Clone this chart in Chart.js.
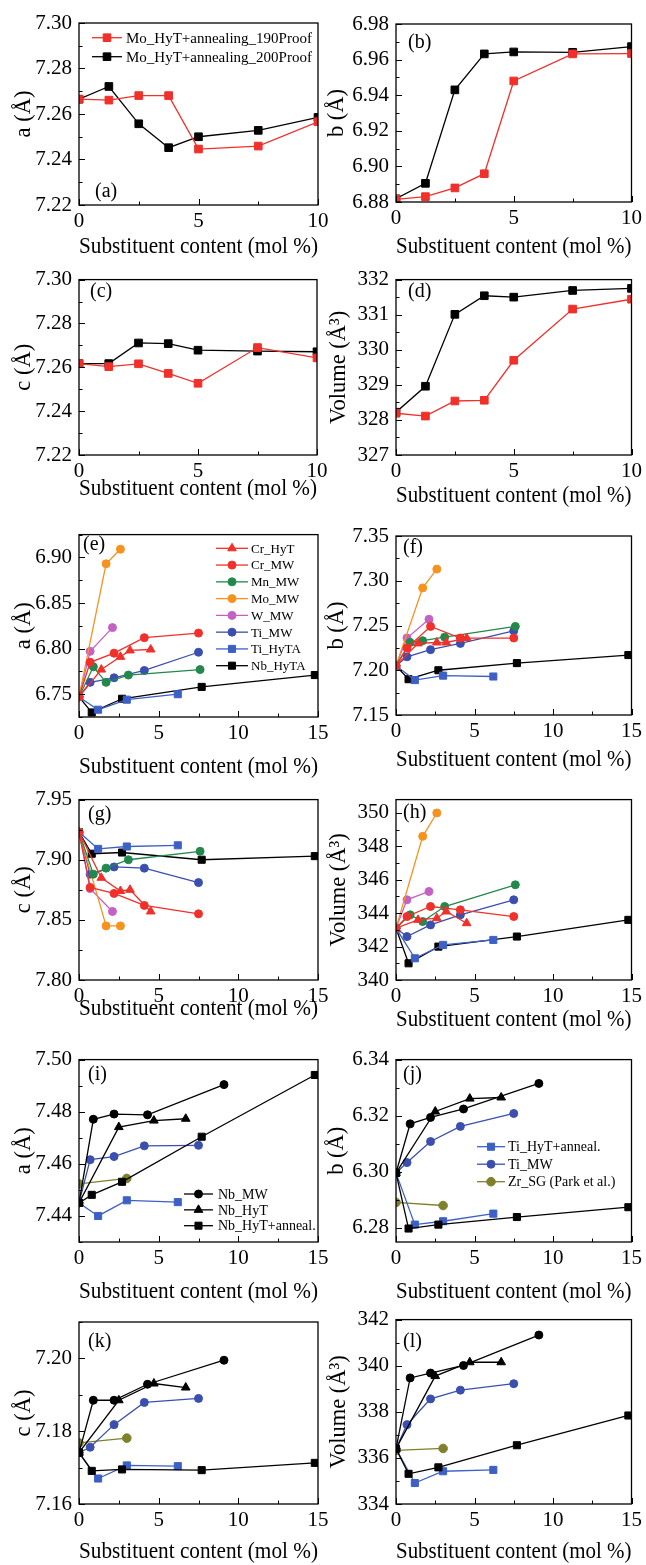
<!DOCTYPE html>
<html>
<head>
<meta charset="utf-8">
<script src="https://cdn.jsdelivr.net/npm/chart.js@4.4.0/dist/chart.umd.min.js"></script>
<style>
  html, body { margin: 0; padding: 0; background: #fff; overflow: hidden; }
  #fig { position: relative; width: 646px; height: 1565px; }
  #fig canvas { position: absolute; }
</style>
</head>
<body>
<div id="fig"></div>
<script>
// ---------- data: Mo substitution, 190 vs 200 proof (a-d) ----------
const xMo = [0, 1.25, 2.5, 3.75, 5, 7.5, 10];
const a190 = [7.2665, 7.2661, 7.2681, 7.2681, 7.2446, 7.2459, 7.2566];
const a200 = [7.2665, 7.2721, 7.2557, 7.2452, 7.2500, 7.2528, 7.2585];
const b190 = [6.8815, 6.8830, 6.8879, 6.8959, 6.9480, 6.9632, 6.9634];
const b200 = [6.8818, 6.8905, 6.9430, 6.9632, 6.9643, 6.9641, 6.9673];
const c190 = [7.2617, 7.2603, 7.2616, 7.2572, 7.2527, 7.2690, 7.2643];
const c200 = [7.2617, 7.2617, 7.2711, 7.2708, 7.2678, 7.2674, 7.2671];
const v190 = [328.19, 328.11, 328.54, 328.56, 329.70, 331.16, 331.44];
const v200 = [328.22, 328.96, 331.01, 331.54, 331.50, 331.69, 331.75];

// ---------- data: other substituents (e-h) ----------
const xCrHyT  = [0, 1.4, 2.6, 3.2, 4.5];
const xCrMW   = [0, 0.7, 2.2, 4.1, 7.5];
const xMnMW   = [0, 0.9, 1.7, 3.1, 7.6];
const xMoMW   = [0, 1.7, 2.6];
const xWMW    = [0, 0.7, 2.1];
const xTiMW   = [0, 0.7, 2.2, 4.1, 7.5];
const xTiHyTA = [0, 1.2, 3.0, 6.2];
const xNbHyTA = [0, 0.8, 2.7, 7.7, 14.8];

const aCrHyT  = [6.747, 6.777, 6.791, 6.798, 6.799];
const aCrMW   = [6.747, 6.785, 6.795, 6.812, 6.817];
const aMnMW   = [6.747, 6.780, 6.763, 6.771, 6.777];
const aMoMW   = [6.747, 6.893, 6.909];
const aWMW    = [6.747, 6.797, 6.823];
const aTiMW   = [6.747, 6.763, 6.768, 6.776, 6.796];
const aTiHyTA = [6.747, 6.733, 6.744, 6.750];
const aNbHyTA = [6.747, 6.730, 6.745, 6.758, 6.771];

const bCrHyT  = [7.205, 7.230, 7.231, 7.231, 7.236];
const bCrMW   = [7.205, 7.225, 7.249, 7.236, 7.236];
const bMnMW   = [7.205, 7.231, 7.233, 7.237, 7.249];
const bMoMW   = [7.205, 7.292, 7.313];
const bWMW    = [7.205, 7.236, 7.257];
const bTiMW   = [7.205, 7.215, 7.223, 7.230, 7.244];
const bTiHyTA = [7.205, 7.189, 7.194, 7.193];
const bNbHyTA = [7.205, 7.190, 7.200, 7.208, 7.217];

const cCrHyT  = [7.923, 7.885, 7.874, 7.875, 7.857];
const cCrMW   = [7.923, 7.877, 7.872, 7.862, 7.855];
const cMnMW   = [7.923, 7.888, 7.893, 7.900, 7.907];
const cMoMW   = [7.923, 7.845, 7.845];
const cWMW    = [7.923, 7.876, 7.857];
const cTiMW   = [7.923, 7.888, 7.894, 7.893, 7.881];
const cTiHyTA = [7.923, 7.909, 7.911, 7.912];
const cNbHyTA = [7.923, 7.905, 7.906, 7.900, 7.903];

const vCrHyT  = [343.1, 343.6, 343.7, 344.1, 343.4];
const vCrMW   = [343.1, 343.8, 344.4, 344.2, 343.8];
const vMnMW   = [343.1, 343.9, 343.5, 344.4, 345.7];
const vMoMW   = [343.1, 348.6, 350.0];
const vWMW    = [343.1, 344.8, 345.3];
const vTiMW   = [343.1, 342.6, 343.3, 343.9, 344.8];
const vTiHyTA = [343.1, 341.3, 342.1, 342.4];
const vNbHyTA = [343.1, 341.0, 342.0, 342.6, 343.6];

// ---------- data: Nb / Ti / Zr series (i-l) ----------
const xNbMW   = [0, 0.9, 2.2, 4.3, 9.1];
const xNbHyT  = [0, 2.5, 4.7, 6.7];
const xNbAnn  = [0, 0.8, 2.7, 7.7, 14.8];
const xTiMW2  = [0, 0.7, 2.2, 4.1, 7.5];
const xTiAnn  = [0, 1.2, 3.0, 6.2];
const xZrSG   = [0, 3.0];

const iNbMW  = [7.445, 7.4771, 7.4791, 7.4788, 7.4904];
const iNbHyT = [7.445, 7.4741, 7.4766, 7.4773];
const iNbAnn = [7.445, 7.4481, 7.4531, 7.4704, 7.4941];
const iTiMW  = [7.445, 7.4616, 7.4628, 7.4669, 7.4671];
const iTiAnn = [7.445, 7.4400, 7.4460, 7.4453];
const iZrSG  = [7.4523, 7.4544];

const jNbMW  = [6.2996, 6.3171, 6.3194, 6.3224, 6.3315];
const jNbHyT = [6.2996, 6.3215, 6.3261, 6.3265];
const jNbAnn = [6.2996, 6.2798, 6.2812, 6.2839, 6.2874];
const jTiMW  = [6.2996, 6.3033, 6.3108, 6.3162, 6.3208];
const jTiAnn = [6.2996, 6.2812, 6.2824, 6.2851];
const jZrSG  = [6.2891, 6.2880];

const kNbMW  = [7.1741, 7.1885, 7.1885, 7.1929, 7.1995];
const kNbHyT = [7.1741, 7.1885, 7.1931, 7.1920];
const kNbAnn = [7.1741, 7.1691, 7.1695, 7.1693, 7.1713];
const kTiMW  = [7.1741, 7.1756, 7.1818, 7.1879, 7.1890];
const kTiAnn = [7.1741, 7.1670, 7.1706, 7.1704];
const kZrSG  = [7.1768, 7.1781];

const lNbMW  = [336.4, 339.47, 339.68, 340.01, 341.33];
const lNbHyT = [336.4, 339.55, 340.15, 340.15];
const lNbAnn = [336.4, 335.31, 335.59, 336.55, 337.84];
const lTiMW  = [336.4, 337.44, 338.56, 338.94, 339.22];
const lTiAnn = [336.4, 334.91, 335.42, 335.48];
const lZrSG  = [336.33, 336.41];

// ---------- tick labels ----------
const ticksA = [7.22, 7.24, 7.26, 7.28, 7.30];
const ticksB = [6.88, 6.90, 6.92, 6.94, 6.96, 6.98];
const ticksD = [327, 328, 329, 330, 331, 332];
const ticksE = [6.75, 6.80, 6.85, 6.90];
const ticksF = [7.15, 7.20, 7.25, 7.30, 7.35];
const ticksG = [7.80, 7.85, 7.90, 7.95];
const ticksH = [340, 342, 344, 346, 348, 350];
const ticksI = [7.44, 7.46, 7.48, 7.50];
const ticksJ = [6.28, 6.30, 6.32, 6.34];
const ticksK = [7.16, 7.18, 7.20];
const ticksL = [334, 336, 338, 340, 342];
const xTitle = 'Substituent content (mol %)';

// ---------- styling ----------
const FONT = "'Liberation Serif', 'Times New Roman', serif";
Chart.defaults.font.family = FONT;
Chart.defaults.color = '#000';
const RED = '#f0302a', GREEN = '#23884c', ORANGE = '#f7921e', MAGENTA = '#c462c4';
const BLUEC = '#3a4fb0', BLUES = '#3d60c6', OLIVE = '#7f7f2c', BLACK = '#000';

function ser(label, xs, ys, color, style, r) {
  return {
    label, data: xs.map((x, i) => ({ x, y: ys[i] })),
    borderColor: color, backgroundColor: color, pointStyle: style,
    pointRadius: r, pointBorderWidth: 1, borderWidth: 1.3,
    showLine: true, clip: 0
  };
}

function topSets(r190, r200) {
  return [
    ser('Mo_HyT+annealing_190Proof', xMo, r190, RED, 'rect', 5.4),
    ser('Mo_HyT+annealing_200Proof', xMo, r200, BLACK, 'rect', 5.4)
  ];
}
function midSets(CrHyT, CrMW, MnMW, MoMW, WMW, TiMW, TiHyTA, NbHyTA) {
  return [
    ser('Cr_HyT', xCrHyT, CrHyT, RED, 'triangle', 5),
    ser('Cr_MW', xCrMW, CrMW, RED, 'circle', 4),
    ser('Mn_MW', xMnMW, MnMW, GREEN, 'circle', 4),
    ser('Mo_MW', xMoMW, MoMW, ORANGE, 'circle', 4),
    ser('W_MW', xWMW, WMW, MAGENTA, 'circle', 4),
    ser('Ti_MW', xTiMW, TiMW, BLUEC, 'circle', 4),
    ser('Ti_HyTA', xTiHyTA, TiHyTA, BLUES, 'rect', 5),
    ser('Nb_HyTA', xNbHyTA, NbHyTA, BLACK, 'rect', 5)
  ];
}
function botSets(NbMW, NbHyT, NbAnn, TiMW, TiAnn, ZrSG) {
  return [
    ser('Nb_MW', xNbMW, NbMW, BLACK, 'circle', 4),
    ser('Nb_HyT', xNbHyT, NbHyT, BLACK, 'triangle', 5),
    ser('Nb_HyT+anneal.', xNbAnn, NbAnn, BLACK, 'rect', 5),
    ser('Ti_MW', xTiMW2, TiMW, BLUEC, 'circle', 4),
    ser('Ti_HyT+anneal.', xTiAnn, TiAnn, BLUES, 'rect', 5),
    ser('Zr_SG (Park et al.)', xZrSG, ZrSG, OLIVE, 'circle', 4.3)
  ];
}

// frame, inward ticks, panel letter and legend
function decor(p) {
  return {
    id: 'decor',
    afterDraw(chart) {
      const { ctx, chartArea: a, scales: { x, y } } = chart;
      ctx.save();
      ctx.strokeStyle = '#000';
      ctx.lineWidth = 1;
      const ys = p.yTicks, ystep = ys[1] - ys[0];
      for (let k = -2; k <= ys.length * 2 + 2; k++) {
        const v = ys[0] + k * ystep / 2;
        if (v < y.min - 1e-9 || v > y.max + 1e-9) continue;
        const py = Math.round(y.getPixelForValue(v)) + 0.5;
        ctx.beginPath(); ctx.moveTo(a.left, py); ctx.lineTo(a.left + (k % 2 === 0 ? 6 : 3.5), py); ctx.stroke();
      }
      for (let v = 0; v <= x.max + 1e-9; v += 2.5) {
        const px = Math.round(x.getPixelForValue(v)) + 0.5;
        const major = Math.abs(v / 5 - Math.round(v / 5)) < 1e-9;
        ctx.beginPath(); ctx.moveTo(px, a.bottom); ctx.lineTo(px, a.bottom - (major ? 6 : 3.5)); ctx.stroke();
      }
      ctx.lineWidth = 1.3;
      ctx.strokeRect(a.left, a.top, a.right - a.left, a.bottom - a.top);

      ctx.fillStyle = '#000';
      ctx.font = '20px ' + FONT;
      ctx.textBaseline = 'middle';
      ctx.textAlign = 'left';
      ctx.fillText(p.label, p.labelX - p.cx, p.labelY - p.cy);

      if (p.legend) {
        const L = p.legend;
        ctx.font = L.size + 'px ' + FONT;
        L.items.forEach((idx, i) => {
          const d = chart.data.datasets[idx];
          const yy = L.y0 + i * L.dy - p.cy;
          const x0 = L.x0 - p.cx;
          ctx.strokeStyle = d.borderColor; ctx.lineWidth = 1.3;
          ctx.beginPath(); ctx.moveTo(x0, yy); ctx.lineTo(x0 + L.len, yy); ctx.stroke();
          ctx.fillStyle = d.backgroundColor; ctx.lineWidth = 1;
          Chart.helpers.drawPoint(ctx, { pointStyle: d.pointStyle, radius: d.pointRadius, borderWidth: 1, rotation: 0 }, x0 + L.len / 2, yy);
          ctx.fillStyle = '#000';
          ctx.fillText(d.label, x0 + L.len + L.gap, yy + 1);
        });
      }
      ctx.restore();
    }
  };
}

const fig = document.getElementById('fig');

function panel(p) {
  const cv = document.createElement('canvas');
  cv.width = p.w; cv.height = p.h;
  cv.style.left = p.cx + 'px'; cv.style.top = p.cy + 'px';
  cv.style.width = p.w + 'px'; cv.style.height = p.h + 'px';
  fig.appendChild(cv);
  const dec = p.dec;
  new Chart(cv, {
    type: 'scatter',
    data: { datasets: p.sets },
    options: {
      responsive: false, animation: false, devicePixelRatio: 1,
      layout: { padding: { top: p.T - p.cy, right: p.cx + p.w - p.R, left: 0, bottom: 0 } },
      plugins: { legend: { display: false }, tooltip: { enabled: false } },
      scales: {
        x: {
          type: 'linear', position: 'bottom', min: 0, max: p.xMax,
          grid: { display: false, drawTicks: false }, border: { display: false },
          ticks: { stepSize: 5, padding: 4, maxRotation: 0, autoSkip: false, font: { size: 21 }, color: '#000' },
          title: { display: true, text: xTitle, font: { size: 22.5 }, padding: { top: 0, bottom: 0 }, color: '#000' },
          afterFit: s => { s.height = p.cy + p.h - p.B; }
        },
        y: {
          type: 'linear', position: 'left', min: p.yMin, max: p.yMax,
          grid: { display: false, drawTicks: false }, border: { display: false },
          afterBuildTicks: s => { s.ticks = p.yTicks.map(v => ({ value: v })); },
          ticks: { padding: 7, autoSkip: false, font: { size: 21 }, color: '#000',
                   callback: v => Number(v).toFixed(dec) },
          title: { display: true, text: p.yTitle, font: { size: 22.5 }, padding: { top: p.tPad, bottom: 0 }, color: '#000' },
          afterFit: s => { s.width = p.L - p.cx; }
        }
      }
    },
    plugins: [decor(p)]
  });
}

const LW = 340, RW = 323;

panel({ cx: 0, cy: 0, w: LW, h: 261, L: 79, R: 318, T: 23, B: 205, xMax: 10,
  yMin: 7.22, yMax: 7.30, yTicks: ticksA, dec: 2, yTitle: 'a (Å)', tPad: 11,
  sets: topSets(a190, a200), label: '(a)', labelX: 95, labelY: 192,
  legend: { x0: 92, y0: 37.7, dy: 19, len: 30, gap: 4, size: 15, items: [0, 1] } });

panel({ cx: 323, cy: 0, w: RW, h: 261, L: 396, R: 635, T: 24, B: 202, xMax: 10,
  yMin: 6.88, yMax: 6.98, yTicks: ticksB, dec: 2, yTitle: 'b (Å)', tPad: 1,
  sets: topSets(b190, b200), label: '(b)', labelX: 408, labelY: 43 });

panel({ cx: 0, cy: 260, w: LW, h: 243, L: 79, R: 317, T: 273, B: 455, xMax: 10,
  yMin: 7.22, yMax: 7.30, yTicks: ticksA, dec: 2, yTitle: 'c (Å)', tPad: 11,
  sets: topSets(c190, c200), label: '(c)', labelX: 90, labelY: 292 });

panel({ cx: 323, cy: 260, w: RW, h: 250, L: 396, R: 635, T: 275, B: 455, xMax: 10,
  yMin: 327, yMax: 332, yTicks: ticksD, dec: 0, yTitle: 'Volume (Å³)', tPad: 3,
  sets: topSets(v190, v200), label: '(d)', labelX: 408, labelY: 292 });

panel({ cx: 0, cy: 515, w: LW, h: 266, L: 79, R: 318, T: 534, B: 717, xMax: 15,
  yMin: 6.725, yMax: 6.925, yTicks: ticksE, dec: 2, yTitle: 'a (Å)', tPad: 11,
  sets: midSets(aCrHyT, aCrMW, aMnMW, aMoMW, aWMW, aTiMW, aTiHyTA, aNbHyTA),
  label: '(e)', labelX: 83, labelY: 545,
  legend: { x0: 216, y0: 548.3, dy: 16.77, len: 32, gap: 3, size: 13, items: [0, 1, 2, 3, 4, 5, 6, 7] } });

panel({ cx: 323, cy: 515, w: RW, h: 259, L: 396, R: 635, T: 536, B: 715, xMax: 15,
  yMin: 7.15, yMax: 7.35, yTicks: ticksF, dec: 2, yTitle: 'b (Å)', tPad: 1,
  sets: midSets(bCrHyT, bCrMW, bMnMW, bMoMW, bWMW, bTiMW, bTiHyTA, bNbHyTA),
  label: '(f)', labelX: 403, labelY: 548 });

panel({ cx: 0, cy: 780, w: LW, h: 243, L: 79, R: 318, T: 797, B: 980, xMax: 15,
  yMin: 7.80, yMax: 7.95, yTicks: ticksG, dec: 2, yTitle: 'c (Å)', tPad: 11,
  sets: midSets(cCrHyT, cCrMW, cMnMW, cMoMW, cWMW, cTiMW, cTiHyTA, cNbHyTA),
  label: '(g)', labelX: 88, labelY: 815 });

panel({ cx: 323, cy: 780, w: RW, h: 254, L: 396, R: 635, T: 797, B: 980, xMax: 15,
  yMin: 340, yMax: 350.8, yTicks: ticksH, dec: 0, yTitle: 'Volume (Å³)', tPad: 3,
  sets: midSets(vCrHyT, vCrMW, vMnMW, vMoMW, vWMW, vTiMW, vTiHyTA, vNbHyTA),
  label: '(h)', labelX: 403, labelY: 813 });

panel({ cx: 0, cy: 1040, w: LW, h: 266, L: 79, R: 318, T: 1057, B: 1242, xMax: 15,
  yMin: 7.43, yMax: 7.50, yTicks: ticksI, dec: 2, yTitle: 'a (Å)', tPad: 11,
  sets: botSets(iNbMW, iNbHyT, iNbAnn, iTiMW, iTiAnn, iZrSG),
  label: '(i)', labelX: 88, labelY: 1075,
  legend: { x0: 184, y0: 1194, dy: 15.85, len: 29, gap: 5, size: 14, items: [0, 1, 2] } });

panel({ cx: 323, cy: 1040, w: RW, h: 266, L: 396, R: 635, T: 1057, B: 1242, xMax: 15,
  yMin: 6.275, yMax: 6.34, yTicks: ticksJ, dec: 2, yTitle: 'b (Å)', tPad: 1,
  sets: botSets(jNbMW, jNbHyT, jNbAnn, jTiMW, jTiAnn, jZrSG),
  label: '(j)', labelX: 403, labelY: 1075,
  legend: { x0: 477, y0: 1146.7, dy: 17.5, len: 28, gap: 3, size: 14, items: [4, 3, 5] } });

panel({ cx: 0, cy: 1300, w: LW, h: 266, L: 79, R: 318, T: 1322, B: 1504, xMax: 15,
  yMin: 7.16, yMax: 7.21, yTicks: ticksK, dec: 2, yTitle: 'c (Å)', tPad: 11,
  sets: botSets(kNbMW, kNbHyT, kNbAnn, kTiMW, kTiAnn, kZrSG),
  label: '(k)', labelX: 88, labelY: 1342 });

panel({ cx: 323, cy: 1300, w: RW, h: 266, L: 396, R: 635, T: 1317, B: 1504, xMax: 15,
  yMin: 334, yMax: 342, yTicks: ticksL, dec: 0, yTitle: 'Volume (Å³)', tPad: 3,
  sets: botSets(lNbMW, lNbHyT, lNbAnn, lTiMW, lTiAnn, lZrSG),
  label: '(l)', labelX: 403, labelY: 1342 });
</script>
</body>
</html>
